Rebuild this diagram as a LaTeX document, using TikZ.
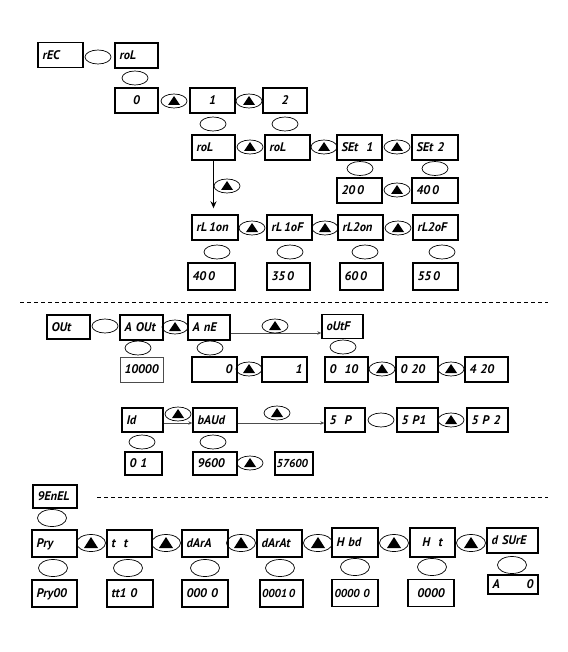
\documentclass[tikz,border=0pt]{standalone}
\usepackage{fontspec}
\newfontfamily\dfont{PT Sans}
\usetikzlibrary{shapes.geometric,arrows.meta}
\tikzset{
  disp/.style={draw, line width=1.4pt, inner xsep=3.5pt, inner ysep=0pt, minimum height=25pt,
    align=left, font=\dfont\bfseries\itshape\fontsize{12.5}{13}\selectfont, text height=8.5pt, text depth=0pt},
  smallfont/.style={font=\dfont\bfseries\itshape\fontsize{11.5}{12}\selectfont},
  thinbox/.style={line width=0.7pt, draw=black!70},
  key/.style={draw, ellipse, line width=0.7pt, minimum width=26pt, minimum height=14pt, inner sep=0pt},
  bigkey/.style={key, minimum width=29pt, minimum height=17pt},
  upkey/.style={key, path picture={\fill ([shift={(-6pt,-4pt)}]path picture bounding box.center) -- ++(12pt,0pt) -- ++(-6pt,9pt) -- cycle;}},
  bigupkey/.style={bigkey, path picture={\fill ([shift={(-7pt,-5pt)}]path picture bounding box.center) -- ++(14pt,0pt) -- ++(-7pt,11pt) -- cycle;}},
  conn/.style={draw=black!70, line width=0.6pt, -{Stealth[length=4pt,width=3.5pt]}},
  downarrow/.style={draw, line width=1.3pt, -{Stealth[length=7pt,width=6pt]}},
  dashline/.style={draw, line width=0.9pt, dash pattern=on 4pt off 3pt}
}
\newcommand{\dbox}[6][]{\pgfmathsetmacro{\tw}{#5-9}\node[disp, inner xsep=4.5pt, minimum width=#5pt, text width=\tw pt, #1] (#2) at (#3,#4) {#6};}
\newcommand{\kk}[4][key]{\node[#1] (#2) at (#3,#4) {};}
\begin{document}
\begin{tikzpicture}[x=1pt,y=-1pt]
\useasboundingbox (0,0) rectangle (567,652);
% ---------- top section ----------
\dbox{rEC}{60.5}{55}{45}{rEC}
\kk{k1}{98}{57}
\dbox{roL0}{136.5}{55.5}{43}{roL}
\kk{k2}{135}{78}
\dbox[align=center]{v0}{136.5}{100.5}{43}{0}
\kk[upkey]{t1}{174}{101}
\dbox[align=center]{v1}{212.5}{100.5}{45}{1}
\kk[upkey]{t2}{249}{101}
\dbox[align=center]{v2}{285}{100.5}{44}{2}
\kk{k3}{213}{124}
\kk{k4}{285}{124}
\dbox{roLa}{213.5}{147.5}{43}{roL}
\kk[upkey]{t3}{250}{147}
\dbox{roLb}{287.5}{147.5}{45}{roL}
\kk[upkey]{t4}{324}{147}
\dbox{SEt1}{359.5}{147.5}{45}{SEt\ \ 1}
\kk[upkey]{t5}{397}{147}
\dbox{SEt2}{435}{147.5}{46}{SEt\ 2}
\kk{k5}{360}{168.5}
\kk{k6}{435}{168.5}
\dbox{v200}{359.5}{190.5}{45}{20\,0}
\kk[upkey]{t6}{397}{190}
\dbox{v400}{435}{190.5}{46}{40\,0}
\kk[upkey]{t7}{227}{186}
\dbox[inner xsep=3pt]{rL1on}{215}{227.5}{46}{rL\,1on}
\kk[upkey]{t8}{252}{228}
\dbox[inner xsep=3pt]{rL1oF}{289.5}{227.5}{45}{rL\,1oF}
\kk[upkey]{t9}{325}{228}
\dbox[inner xsep=3pt]{rL2on}{360.5}{227.5}{45}{rL2on}
\kk[upkey]{t10}{398}{228}
\dbox[inner xsep=3pt]{rL2oF}{435.5}{227.5}{45}{rL2oF}
\kk{k7}{217}{252}
\kk{k8}{290}{252}
\kk{k9}{365}{252}
\kk{k10}{442}{252}
\dbox[minimum height=27pt]{w400}{211.5}{276.5}{47}{40\,0}
\dbox[minimum height=27pt]{w350}{288.5}{276.5}{43}{35\,0}
\dbox[minimum height=27pt]{w600}{361.5}{276.5}{43}{60\,0}
\dbox[minimum height=27pt]{w550}{435.5}{276.5}{45}{55\,0}
\draw[downarrow] (roLa.south) -- ([yshift=6pt]roLa.south |- rL1on.north);
\coordinate (da1) at (20,302);
\coordinate (db1) at (548,302);
\draw[dashline] (da1) -- (db1);
% ---------- middle section ----------
\dbox[minimum height=24pt]{OUt}{68.5}{327}{43}{OUt}
\kk{k11}{105}{326}
\dbox[inner xsep=2.5pt]{AOUt}{141.5}{327.5}{43}{A OUt}
\kk[upkey]{t11}{175}{327}
\dbox[inner xsep=2.5pt]{AnE}{209}{327.5}{42}{A nE}
\dbox[minimum height=24pt]{oUtF}{342.5}{326.5}{41}{oUtF}
\draw[conn] ([yshift=-5.5pt]AnE.east) -- ([yshift=-5.5pt]AnE.east -| oUtF.west);
\kk[upkey]{t12}{275}{326}
\kk{k12}{138}{348}
\kk{k13}{210}{348}
\kk{k14}{343}{347}
\dbox[thinbox, inner xsep=3pt]{v10000}{141.5}{369.5}{43}{10000}
\dbox[align=right]{vA0}{214.5}{369.5}{45}{0}
\kk[upkey]{t13}{249}{369}
\dbox[align=right]{vA1}{284.5}{369.5}{45}{1}
\dbox[inner xsep=3pt]{v010}{346.5}{369.5}{43}{0\ \ 10}
\kk[upkey]{t14}{382}{369}
\dbox[inner xsep=3pt]{v020}{417}{369.5}{42}{0 20}
\kk[upkey]{t15}{451}{369}
\dbox[inner xsep=3pt]{v420}{486.5}{369.5}{43}{4 20}
\dbox[minimum height=24pt]{Id}{142.5}{420}{41}{Id}
\dbox[minimum height=24pt, inner xsep=3pt]{bAUd}{215}{420}{44}{bAUd}
\dbox[minimum height=24pt]{SP}{345}{420}{40}{5\ \ P}
\draw[conn] ([yshift=-3pt]Id.east) -- ([yshift=-3pt]Id.east -| bAUd.west);
\draw[conn] ([yshift=-3pt]bAUd.east) -- ([yshift=-3pt]bAUd.east -| SP.west);
\kk[upkey]{t16}{178}{414}
\kk[upkey]{t17}{277}{413}
\kk{k15}{381}{420}
\dbox[minimum height=24pt, inner xsep=3pt]{SP1}{417.5}{420}{41}{5 P1}
\kk[upkey]{t18}{451}{420}
\dbox[minimum height=24pt, inner xsep=3pt]{SP2}{487.5}{420}{41}{5 P 2}
\kk{k16}{142}{442}
\kk{k17}{213}{442}
\dbox[minimum height=23pt]{v01}{143.5}{463.5}{37}{0 1}
\dbox[minimum height=23pt, inner xsep=3pt]{v9600}{215}{463.5}{44}{9600}
\kk[upkey]{t19}{250}{463}
\dbox[minimum height=23pt, inner xsep=1.5pt, text width=35pt, smallfont]{v57600}{294}{463.5}{38}{57600}
% ---------- bottom section ----------
\dbox[minimum height=23pt, inner xsep=2.5pt]{GEnEL}{55}{496.5}{44}{9EnEL}
\coordinate (da2) at (97,497);
\coordinate (db2) at (548,497);
\draw[dashline] (da2) -- (db2);
\kk[bigkey]{k18}{52}{518}
\dbox[minimum height=27pt]{Pry}{54.5}{543.5}{45}{Pry}
\kk[bigupkey]{t20}{91}{543}
\dbox[minimum height=27pt]{tt}{129.5}{543.5}{45}{t\ \ t}
\kk[bigupkey]{t21}{166}{543}
\dbox[minimum height=27pt]{dArA}{205}{543.5}{46}{dArA}
\kk[bigupkey]{t22}{241}{543}
\dbox[minimum height=27pt, inner xsep=3pt]{dArAt}{279.5}{543.5}{45}{dArAt}
\kk[bigupkey]{t23}{318}{543}
\dbox[minimum height=29pt]{Hbd}{355}{542.5}{46}{H bd}
\kk[bigupkey]{t24}{394}{543}
\dbox[minimum height=29pt, align=center]{Ht}{432.5}{542.5}{45}{H\ \ t}
\kk[bigupkey]{t25}{471}{543}
\dbox[inner xsep=3pt]{dSUrE}{512.5}{540.5}{51}{d SUrE}
\kk[bigkey]{k19}{53}{568}
\kk[bigkey]{k20}{128}{568}
\kk[bigkey]{k21}{205}{568}
\kk[bigkey]{k22}{280}{568}
\kk[bigkey]{k23}{355}{567}
\kk[bigkey]{k24}{432}{567}
\kk[bigkey]{k25}{512}{565}
\dbox[minimum height=27pt, inner xsep=3pt]{Pry00}{54.5}{593.5}{45}{Pry00}
\dbox[minimum height=27pt]{tt10}{130}{593.5}{46}{tt1 0}
\dbox[minimum height=27pt]{d0000}{205}{593.5}{46}{000 0}
\dbox[minimum height=27pt, inner xsep=2pt, text width=39pt, smallfont]{d00010}{281.5}{593.5}{43}{0001\,0}
\dbox[minimum height=27pt, inner xsep=2.5pt, text width=41pt, smallfont]{d00000}{355}{593}{46}{0000 0}
\dbox[minimum height=27pt, align=center]{d0000b}{431}{593}{46}{0000}
\dbox[minimum height=19pt]{A0}{513}{584.5}{50}{A\hfill 0}
\end{tikzpicture}
\end{document}
